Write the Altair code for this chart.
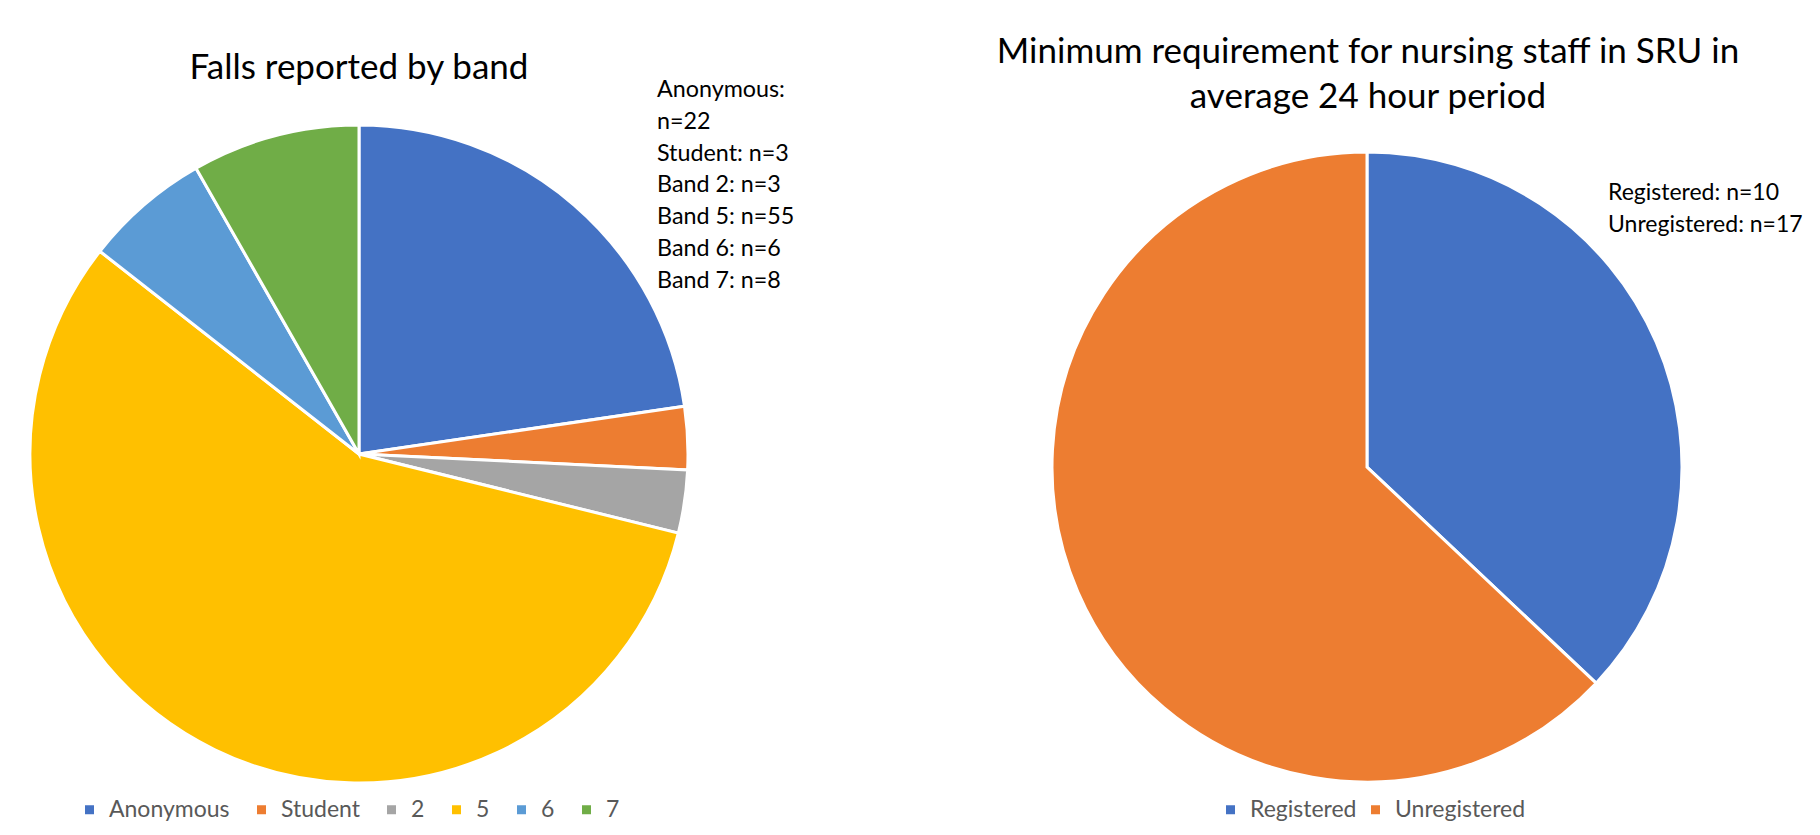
import altair as alt
import pandas as pd

# ---- data ----
falls_cats = ["Anonymous", "Student", "2", "5", "6", "7"]
falls_labels = ["Anonymous", "Student", "Band 2", "Band 5", "Band 6", "Band 7"]
falls_values = [22, 3, 3, 55, 6, 8]
falls_colors = ["#4472C4", "#ED7D31", "#A5A5A5", "#FFC000", "#5B9BD5", "#70AD47"]

staff_cats = ["Registered", "Unregistered"]
staff_values = [10, 17]
staff_colors = ["#4472C4", "#ED7D31"]

falls_title = "Falls reported by band"
staff_title = ["Minimum requirement for nursing staff in SRU in", "average 24 hour period"]

FONT = "Lato"

df1 = pd.DataFrame({"cat": falls_cats, "n": falls_values, "ord": list(range(len(falls_cats)))})
df2 = pd.DataFrame({"group": staff_cats, "n": staff_values, "ord": list(range(len(staff_cats)))})

falls_note = ["Anonymous:", f"n={falls_values[0]}"] + [
    f"{lab}: n={v}" for lab, v in zip(falls_labels[1:], falls_values[1:])
]
staff_note = [f"{lab}: n={v}" for lab, v in zip(staff_cats, staff_values)]


def legend(x, y, pad):
    return alt.Legend(
        title=None, orient="none", legendX=x, legendY=y, direction="horizontal",
        symbolType="square", symbolSize=81, symbolStrokeWidth=0,
        labelFontSize=23, labelFont=FONT, labelColor="#595959",
        columnPadding=pad, labelOffset=8, padding=0,
    )


pie1 = alt.Chart(df1).mark_arc(outerRadius=329, stroke="white", strokeWidth=3).encode(
    theta=alt.Theta("n:Q", stack=True),
    color=alt.Color("cat:N", scale=alt.Scale(domain=falls_cats, range=falls_colors),
                    sort=falls_cats, legend=legend(70, 790, 20)),
    order=alt.Order("ord:Q"),
    x=alt.value(351), y=alt.value(446),
)

pie2 = alt.Chart(df2).mark_arc(outerRadius=315, stroke="white", strokeWidth=3).encode(
    theta=alt.Theta("n:Q", stack=True),
    color=alt.Color("group:N", scale=alt.Scale(domain=staff_cats, range=staff_colors),
                    sort=staff_cats, legend=legend(1211, 790, 7)),
    order=alt.Order("ord:Q"),
    x=alt.value(1359), y=alt.value(459),
)

blank = alt.Data(values=[{}])

t1 = alt.Chart(blank).mark_text(font=FONT, fontSize=35, align="center", baseline="alphabetic",
                                color="#000000").encode(
    x=alt.value(351), y=alt.value(71), text=alt.value(falls_title))

t2 = alt.Chart(blank).mark_text(font=FONT, fontSize=35, align="center", baseline="alphabetic",
                                color="#000000", lineHeight=45).encode(
    x=alt.value(1360), y=alt.value(55), text=alt.value(staff_title))

n1 = alt.Chart(blank).mark_text(font=FONT, fontSize=23.3, align="left", baseline="alphabetic",
                                color="#000000", lineHeight=31.8).encode(
    x=alt.value(649), y=alt.value(89), text=alt.value(falls_note))

n2 = alt.Chart(blank).mark_text(font=FONT, fontSize=23, align="left", baseline="alphabetic",
                                color="#000000", lineHeight=32).encode(
    x=alt.value(1600), y=alt.value(192), text=alt.value(staff_note))

chart = alt.layer(pie1, pie2, t1, t2, n1, n2).resolve_scale(
    theta="independent", color="independent"
).properties(
    width=1804, height=819, padding=0,
    autosize=alt.AutoSizeParams(type="none"),
).configure_view(stroke=None)

chart.save("out.html", embed_options={"renderer": "svg", "actions": False})
